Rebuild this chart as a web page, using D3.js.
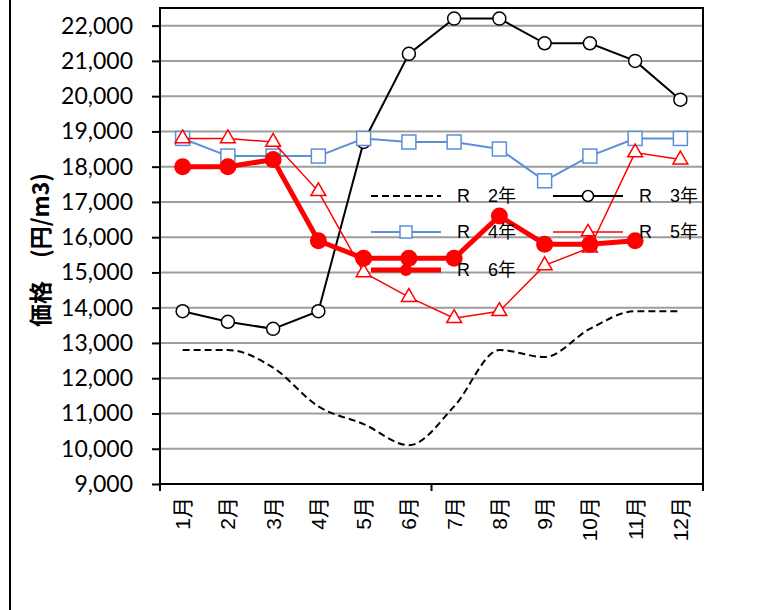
<!DOCTYPE html>
<html><head><meta charset="utf-8">
<script src="https://cdn.jsdelivr.net/npm/d3@7/dist/d3.min.js"></script>
<style>
html,body{margin:0;padding:0;background:#fff;}
svg{display:block;}
</style></head>
<body>
<script>
const months = ["1月","2月","3月","4月","5月","6月","7月","8月","9月","10月","11月","12月"];
const r2 = [12800,12800,12300,11200,10700,10100,11200,12800,12600,13400,13900,13900];
const r3 = [13900,13600,13400,13900,18700,21200,22200,22200,21500,21500,21000,19900];
const r4 = [18800,18300,18300,18300,18800,18700,18700,18500,17600,18300,18800,18800];
const r5 = [18800,18800,18700,17300,15000,14300,13700,13900,15200,15700,18400,18200];
const r6 = [18000,18000,18200,15900,15400,15400,15400,16600,15800,15800,15900,null];
const seriesNames = ["R\u30002年","R\u30003年","R\u30004年","R\u30005年","R\u30006年"];
const yTicks = [9000,10000,11000,12000,13000,14000,15000,16000,17000,18000,19000,20000,21000,22000];
const yTitle = "価格\u3000(円/m3)";

const W = 762, H = 610;
const L = 160, R = 703, T = 8, B = 484;
const svg = d3.select("body").append("svg").attr("width", W).attr("height", H);

const x = d3.scaleBand().domain(months).range([L, R]);
const xc = m => x(m) + x.bandwidth() / 2;
const y = d3.scaleLinear().domain([9000, 22500]).range([B, T]);

// outer frame left line
svg.append("line").attr("x1", 10).attr("x2", 10).attr("y1", 0).attr("y2", H)
  .attr("stroke", "#000").attr("stroke-width", 2);

// gridlines
svg.append("g").selectAll("line").data(yTicks.filter(v => v > 9000)).join("line")
  .attr("x1", L).attr("x2", R).attr("y1", d => y(d)).attr("y2", d => y(d))
  .attr("stroke", "#9d9d9d").attr("stroke-width", 2);

// y axis
const yAxis = svg.append("g").attr("transform", `translate(${L},0)`)
  .call(d3.axisLeft(y).tickValues(yTicks).tickFormat(d3.format(",")).tickSize(8).tickPadding(19));
yAxis.select(".domain").remove();
yAxis.selectAll(".tick line").attr("stroke", "#000").attr("stroke-width", 2);
yAxis.selectAll(".tick text").attr("font-family", "Lato, 'Liberation Sans', sans-serif")
  .attr("font-size", 23).attr("fill", "#000");

// x axis
const xAxis = svg.append("g").attr("transform", `translate(0,${B})`)
  .call(d3.axisBottom(x).tickSize(0).tickPadding(0));
xAxis.select(".domain").remove();
xAxis.selectAll(".tick text")
  .attr("font-family", "'Liberation Sans', 'Noto Sans CJK JP', sans-serif")
  .attr("font-size", 21).attr("fill", "#000")
  .attr("text-anchor", "end").attr("dy", null)
  .attr("transform", "translate(0,13) rotate(-90)")
  .attr("x", 0).attr("y", 0).attr("dominant-baseline", "central");
const xt = [L, x(months[6]), R];
svg.append("g").selectAll("line").data(xt).join("line")
  .attr("x1", d => d).attr("x2", d => d).attr("y1", B).attr("y2", B + 7)
  .attr("stroke", "#000").attr("stroke-width", 2);

// plot box
svg.append("rect").attr("x", L).attr("y", T).attr("width", R - L).attr("height", B - T)
  .attr("fill", "none").attr("stroke", "#000").attr("stroke-width", 2);

// y title
svg.append("text").attr("transform", "translate(39,250) rotate(-90)")
  .attr("text-anchor", "middle").attr("dominant-baseline", "central")
  .attr("font-family", "'Noto Sans CJK JP', sans-serif").attr("font-weight", "bold")
  .attr("font-size", 23).text(yTitle);

const line = d3.line().defined(d => d[1] != null).x(d => xc(d[0])).y(d => y(d[1]));
const pts = arr => months.map((m, i) => [m, arr[i]]);

const red = "#ff0000", blue = "#5b8fd8";

// R2 dashed smoothed
svg.append("path").datum(pts(r2)).attr("fill", "none").attr("stroke", "#000")
  .attr("stroke-width", 2).attr("stroke-dasharray", "7,4")
  .attr("d", line.curve(d3.curveMonotoneX));
line.curve(d3.curveLinear);

// R3
svg.append("path").datum(pts(r3)).attr("fill", "none").attr("stroke", "#000")
  .attr("stroke-width", 2).attr("d", line);
svg.append("g").selectAll("circle").data(pts(r3)).join("circle")
  .attr("cx", d => xc(d[0])).attr("cy", d => y(d[1])).attr("r", 6.5)
  .attr("fill", "#fff").attr("stroke", "#000").attr("stroke-width", 1.5);

// R4
svg.append("path").datum(pts(r4)).attr("fill", "none").attr("stroke", blue)
  .attr("stroke-width", 2).attr("d", line);
svg.append("g").selectAll("rect").data(pts(r4)).join("rect")
  .attr("x", d => xc(d[0]) - 7).attr("y", d => y(d[1]) - 7).attr("width", 14).attr("height", 14)
  .attr("fill", "#fff").attr("stroke", blue).attr("stroke-width", 1.5);

// R5
const tri = d3.symbol().type(d3.symbolTriangle).size(95);
svg.append("path").datum(pts(r5)).attr("fill", "none").attr("stroke", red)
  .attr("stroke-width", 1.5).attr("d", line);
svg.append("g").selectAll("path").data(pts(r5)).join("path")
  .attr("d", tri).attr("transform", d => `translate(${xc(d[0])},${y(d[1])})`)
  .attr("fill", "#fff").attr("stroke", red).attr("stroke-width", 1.5);

// R6
svg.append("path").datum(pts(r6)).attr("fill", "none").attr("stroke", red)
  .attr("stroke-width", 5).attr("stroke-linejoin", "round").attr("d", line);
svg.append("g").selectAll("circle").data(pts(r6).filter(d => d[1] != null)).join("circle")
  .attr("cx", d => xc(d[0])).attr("cy", d => y(d[1])).attr("r", 8.5).attr("fill", red);

// legend
const leg = [
  {i:0, x:371, y:196}, {i:1, x:553, y:196},
  {i:2, x:371, y:232}, {i:3, x:553, y:232},
  {i:4, x:371, y:270}
];
const lg = svg.append("g");
leg.forEach(o => {
  const g = lg.append("g").attr("transform", `translate(${o.x},${o.y})`);
  const ln = g.append("line").attr("x1", 0).attr("x2", 70).attr("y1", 0).attr("y2", 0);
  const cx = 35;
  if (o.i === 0) ln.attr("stroke", "#000").attr("stroke-width", 2).attr("stroke-dasharray", "7,4");
  if (o.i === 1) { ln.attr("stroke", "#000").attr("stroke-width", 2);
    g.append("circle").attr("cx", cx).attr("cy", 0).attr("r", 5.5).attr("fill", "#fff").attr("stroke", "#000").attr("stroke-width", 1.5); }
  if (o.i === 2) { ln.attr("stroke", blue).attr("stroke-width", 2);
    g.append("rect").attr("x", cx - 6).attr("y", -6).attr("width", 12).attr("height", 12).attr("fill", "#fff").attr("stroke", blue).attr("stroke-width", 1.5); }
  if (o.i === 3) { ln.attr("stroke", red).attr("stroke-width", 1.5);
    g.append("path").attr("d", d3.symbol().type(d3.symbolTriangle).size(75)).attr("transform", `translate(${cx},0)`).attr("fill", "#fff").attr("stroke", red).attr("stroke-width", 1.5); }
  if (o.i === 4) { ln.attr("stroke", red).attr("stroke-width", 5);
    g.append("circle").attr("cx", cx).attr("cy", 0).attr("r", 6).attr("fill", red); }
  g.append("text").attr("x", 86).attr("y", 0).attr("dominant-baseline", "central")
    .attr("font-family", "'Liberation Sans', 'Noto Sans CJK JP', sans-serif")
    .attr("font-size", 18).attr("fill", "#000").text(seriesNames[o.i]);
});
</script>
</body></html>
